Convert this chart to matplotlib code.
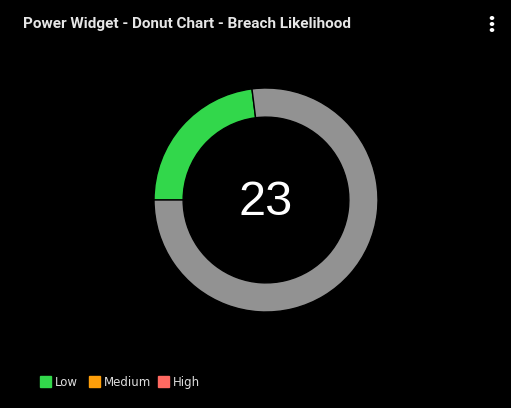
import matplotlib.pyplot as plt
from matplotlib.patches import Rectangle

# data
title = "Power Widget - Donut Chart - Breach Likelihood"
score = 23
max_score = 100
levels = ["Low", "Medium", "High"]
level_colors = ["#32d74b", "#ff9f0a", "#ff6961"]
track_color = "#929292"

W, H = 511, 408
fig = plt.figure(figsize=(W / 100, H / 100), dpi=100, facecolor="black")

# donut: center (266, 200) px, outer radius 112 px
cx, cy, r = 266, 200, 112
ax = fig.add_axes([(cx - r) / W, (H - cy - r) / H, 2 * r / W, 2 * r / H])
ax.set_facecolor("black")
ax.pie([score, max_score - score], colors=[level_colors[0], track_color],
       startangle=180, counterclock=False, radius=1,
       wedgeprops=dict(width=0.26, edgecolor="black", linewidth=1))
ax.set_xlim(-1, 1)
ax.set_ylim(-1, 1)
ax.set_aspect("equal")
ax.axis("off")
ax.text(0, -0.025, str(score), ha="center", va="center", color="white",
        fontsize=35, family="Liberation Sans")

# title + menu dots
fig.text(23 / W, 1 - 24 / H, title, ha="left", va="center", color="#e6e6e6",
         fontsize=11, fontweight="bold", family="Roboto")
for y in [18, 24, 30]:
    fig.patches.append(plt.Circle((492 / W, 1 - y / H), 1.6 / W,
                                  transform=fig.transFigure, color="white"))

# legend (drawn by hand so the labels share one baseline)
legend_x = [40, 89, 158]
for x, lab, col in zip(legend_x, levels, level_colors):
    fig.patches.append(Rectangle((x / W, 1 - 387 / H), 11 / W, 11 / H,
                                 transform=fig.transFigure, color=col))
    fig.text((x + 15) / W, 1 - 386 / H, lab, ha="left", va="baseline",
             color="#dddddd", fontsize=8.5)

fig.savefig("out.png", dpi=100, facecolor="black")
